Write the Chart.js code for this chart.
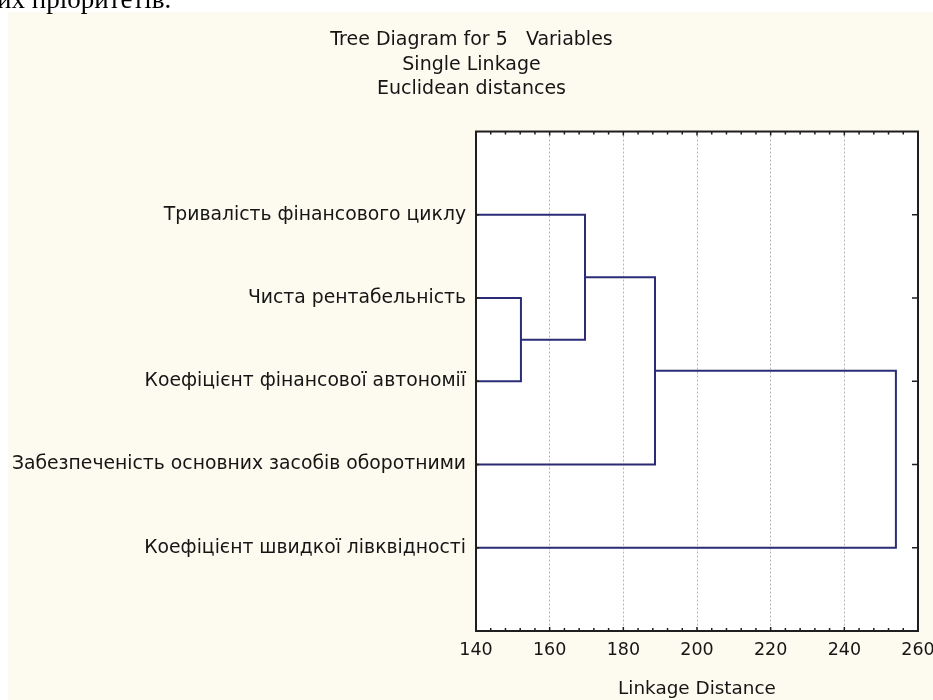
<!DOCTYPE html>
<html lang="uk">
<head>
<meta charset="utf-8">
<title>Tree Diagram for 5 Variables</title>
<script src="https://cdn.jsdelivr.net/npm/chart.js@4.4.1/dist/chart.umd.min.js"></script>
<style>
  html, body { margin: 0; padding: 0; background: #fff; width: 933px; height: 700px; overflow: hidden; }
  #texteHaut { position: absolute; left: -3px; top: -14px; font-family: "Liberation Serif", serif; font-size: 27px; line-height: 27px; color: #000; white-space: nowrap; z-index: 2; }
  #fond { position: absolute; left: 8px; top: 12px; width: 925px; height: 688px; background: #fdfaef; }
</style>
</head>
<body>
<div id="texteHaut">их пріоритетів.</div>
<div id="fond"><canvas id="myChartTree" width="925" height="688"></canvas></div>
<script>
//? Données du dendrogramme.

const variables = [
  "Тривалість фінансового циклу",
  "Чиста рентабельність",
  "Коефіцієнт фінансової автономії",
  "Забезпеченість основних засобів оборотними",
  "Коефіцієнт швидкої лівквідності",
];

const titreLignes = ["Tree Diagram for 5   Variables", "Single Linkage", "Euclidean distances"];
const titreAxeX = "Linkage Distance";
const ticksDistance = [140, 160, 180, 200, 220, 240, 260];
const pasMineur = 4;

// fusions : indices des clusters (0-4 = variables, 5+ = clusters créés)
const fusionGauche = [1, 0, 6, 7];
const fusionDroite = [2, 5, 3, 4];
const distancesFusion = [152.2, 169.6, 188.6, 254.0];

//? -------------------------------------------------

//? Construction des segments à partir des fusions.

const positionsY = variables.map((v, i) => i + 1);
const hauteurs = variables.map(() => ticksDistance[0]);
const segments = [];

distancesFusion.forEach((d, k) => {
  const a = fusionGauche[k];
  const b = fusionDroite[k];
  segments.push([
    { x: hauteurs[a], y: positionsY[a] },
    { x: d, y: positionsY[a] },
    { x: d, y: positionsY[b] },
    { x: hauteurs[b], y: positionsY[b] },
  ]);
  positionsY.push((positionsY[a] + positionsY[b]) / 2);
  hauteurs.push(d);
});

//? -------------------------------------------------

//? Cadre, fond blanc et petites graduations.

const pluginCadre = {
  id: "cadre",
  beforeDraw(chart) {
    const { ctx, chartArea: { left, right, top, bottom } } = chart;
    ctx.save();
    ctx.fillStyle = "#ffffff";
    ctx.fillRect(left, top, right - left, bottom - top);
    ctx.restore();
  },
  afterDraw(chart) {
    const { ctx, chartArea: { left, right, top, bottom }, scales: { x, y } } = chart;
    ctx.save();
    ctx.strokeStyle = "#1e1e1e";
    ctx.lineWidth = 1.5;
    ctx.beginPath();
    for (let v = ticksDistance[0]; v <= ticksDistance[ticksDistance.length - 1]; v += pasMineur) {
      const px = x.getPixelForValue(v);
      const l = (v - ticksDistance[0]) % 20 === 0 ? 4 : 3;
      ctx.moveTo(px, top);
      ctx.lineTo(px, top + l);
      ctx.moveTo(px, bottom);
      ctx.lineTo(px, bottom - l);
    }
    variables.forEach((v, i) => {
      const py = y.getPixelForValue(i + 1);
      ctx.moveTo(right, py);
      ctx.lineTo(right - 6, py);
      ctx.moveTo(left, py);
      ctx.lineTo(left + 3, py);
    });
    ctx.stroke();
    ctx.lineWidth = 2;
    ctx.strokeRect(left, top, right - left, bottom - top);
    ctx.restore();
  },
};

//? -------------------------------------------------

//? Construction du graphique.

const ctxTree = document.getElementById("myChartTree").getContext("2d");

const data = {
  datasets: segments.map((s, k) => ({
    label: "Fusion " + (k + 1),
    data: s,
    showLine: true,
    borderColor: "#2b2b78",
    borderWidth: 2,
    pointRadius: 0,
    tension: 0,
    fill: false,
  })),
};

const optionsTree = {
  responsive: false,
  animation: { duration: 0 },
  layout: { padding: { left: 2, right: 0, top: 0, bottom: 0 } },
  plugins: {
    legend: { display: false },
    tooltip: { enabled: false },
    title: {
      display: true,
      text: titreLignes,
      color: "#151515",
      font: { family: "DejaVu Sans", size: 19, weight: "normal", lineHeight: 1.29 },
      padding: { top: 16, bottom: 30 },
    },
  },
  scales: {
    x: {
      type: "linear",
      min: ticksDistance[0],
      max: ticksDistance[ticksDistance.length - 1],
      afterBuildTicks: (scale) => {
        scale.ticks = ticksDistance.map((v) => ({ value: v }));
      },
      afterFit: (scale) => {
        scale.height = 69;
        scale.paddingLeft = 0;
        scale.paddingRight = 15;
      },
      grid: {
        drawTicks: false,
        lineWidth: 1,
        color: (c) =>
          c.tick && (c.tick.value === ticksDistance[0] || c.tick.value === ticksDistance[ticksDistance.length - 1])
            ? "rgba(0,0,0,0)"
            : "#b5b5b5",
      },
      border: { display: false, dash: [2, 2] },
      ticks: {
        color: "#151515",
        padding: 9,
        maxRotation: 0,
        font: { family: "DejaVu Sans", size: 17.5 },
      },
      title: {
        display: true,
        text: titreAxeX,
        color: "#151515",
        padding: { top: 0, bottom: 0 },
        font: { family: "DejaVu Sans", size: 18.4 },
      },
    },
    y: {
      type: "linear",
      min: 0,
      max: variables.length + 1,
      reverse: true,
      afterBuildTicks: (scale) => {
        scale.ticks = variables.map((v, i) => ({ value: i + 1 }));
      },
      afterFit: (scale) => {
        scale.width = 466;
      },
      grid: { display: false, drawTicks: false },
      border: { display: false },
      ticks: {
        color: "#151515",
        padding: 10,
        font: { family: "DejaVu Sans", size: 18.8 },
        callback: (value) => variables[value - 1] || "",
      },
    },
  },
};

new Chart(ctxTree, {
  type: "scatter",
  data,
  options: optionsTree,
  plugins: [pluginCadre],
});
</script>
</body>
</html>
